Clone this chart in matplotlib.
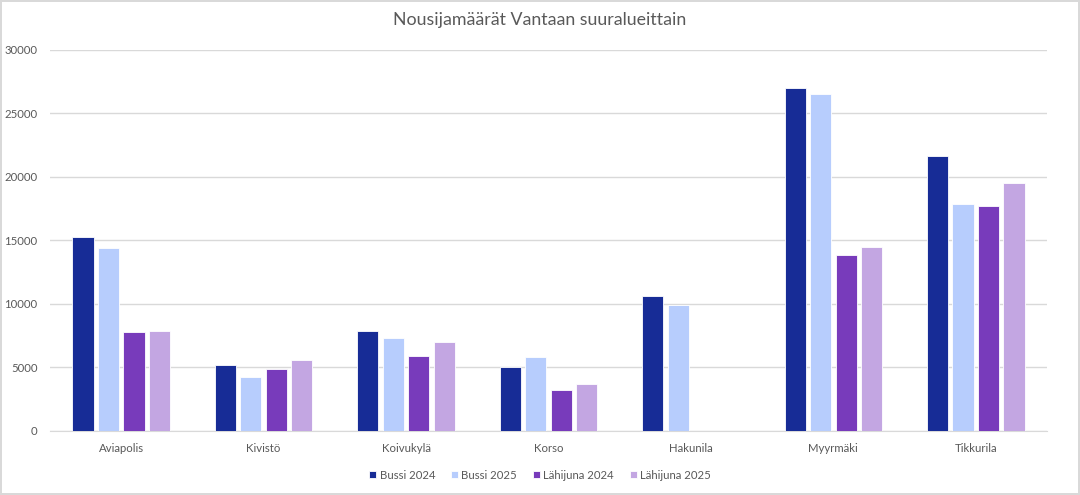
import numpy as np
import matplotlib.pyplot as plt

alueet = ["Aviapolis", "Kivistö", "Koivukylä", "Korso", "Hakunila", "Myyrmäki", "Tikkurila"]
bussi_2024 = [15280, 5200, 7870, 5070, 10660, 27010, 21650]
bussi_2025 = [14440, 4250, 7300, 5800, 9950, 26510, 17900]
lahijuna_2024 = [7800, 4880, 5910, 3200, np.nan, 13860, 17690]
lahijuna_2025 = [7850, 5620, 6980, 3730, np.nan, 14490, 19530]

sarjat = [
    ("Bussi 2024", bussi_2024, "#172c96"),
    ("Bussi 2025", bussi_2025, "#b7cdfd"),
    ("Lähijuna 2024", lahijuna_2024, "#783bbb"),
    ("Lähijuna 2025", lahijuna_2025, "#c3a6e2"),
]

plt.rcParams['font.family'] = ['Lato', 'DejaVu Sans']

fig = plt.figure(figsize=(10.8, 4.95), dpi=100)
fig.patch.set_edgecolor("#d9d9d9")
fig.patch.set_linewidth(1.5)
ax = fig.add_axes([0.0463, 0.1293, 0.9231, 0.7697])

x = np.arange(len(alueet))
step = 0.179
width = 0.148
for i, (nimi, arvot, vari) in enumerate(sarjat):
    ax.bar(x + (i - 1.5) * step, arvot, width, color=vari, label=nimi,
           edgecolor="white", linewidth=0.6, zorder=3)

ax.set_xlim(-0.5, len(alueet) - 0.5)
ax.set_ylim(0, 30000)
ax.set_yticks(range(0, 30001, 5000))
ax.set_xticks(x)
ax.set_xticklabels(alueet)
ax.tick_params(axis="both", length=0, colors="#595959", labelsize=8.2)
ax.tick_params(axis="x", pad=9)
ax.tick_params(axis="y", pad=9)
ax.grid(axis="y", color="#d9d9d9", linewidth=1, zorder=0)
for s in ["top", "right", "left"]:
    ax.spines[s].set_visible(False)
ax.spines["bottom"].set_color("#d9d9d9")

fig.suptitle("Nousijamäärät Vantaan suuralueittain", y=0.975, fontsize=12.8, color="#595959")

fig.legend(loc="lower center", bbox_to_anchor=(0.5, 0.008), ncol=4, frameon=False,
           fontsize=8.2, handlelength=0.6, handleheight=0.6, handletextpad=0.3,
           columnspacing=1.4, labelcolor="#595959")

fig.savefig("out.png", dpi=100)
